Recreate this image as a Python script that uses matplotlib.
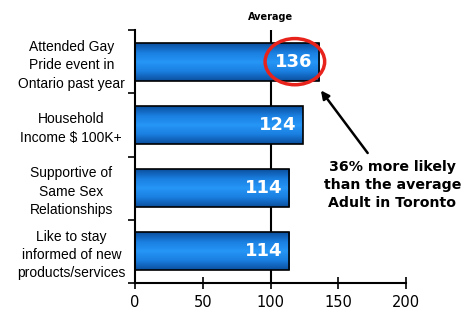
import numpy as np
import matplotlib.pyplot as plt
from matplotlib.colors import LinearSegmentedColormap
from matplotlib.patches import Ellipse

categories = ['Attended Gay\nPride event in\nOntario past year',
              'Household\nIncome $ 100K+',
              'Supportive of\nSame Sex\nRelationships',
              'Like to stay\ninformed of new\nproducts/services']
values = [136, 124, 114, 114]
xticks = [0, 50, 100, 150, 200]
average = 100
note = '36% more likely\nthan the average\nAdult in Toronto'

fig = plt.figure(figsize=(4.66, 3.13), dpi=100)
ax = fig.add_axes([0.29, 0.096, 0.581, 0.808])

grad = LinearSegmentedColormap.from_list('bar', ['#0b4f9e', '#1a7fe0', '#2596f7', '#1a7fe0', '#0b4f9e'])
g = np.linspace(0, 1, 64).reshape(-1, 1)
h = 0.6
for i, v in enumerate(values):
    ax.imshow(g, cmap=grad, aspect='auto', extent=[0, v, i + h / 2, i - h / 2], zorder=2)
    ax.barh(i, v, height=h, facecolor='none', edgecolor='black', linewidth=1.2, zorder=3)
    ax.text(v - 5, i, str(v), color='white', fontweight='bold', fontsize=13,
            ha='right', va='center', zorder=5)

ax.set_xlim(0, 200)
ax.set_ylim(3.5, -0.5)
ax.axvline(average, color='black', linewidth=1.5, zorder=1)
ax.text(average, -0.7, 'Average', ha='center', va='center', fontsize=7, fontweight='bold')

ax.set_yticks(np.arange(len(categories)))
ax.set_yticklabels(categories, family='Liberation Sans', fontsize=10, ha='center', linespacing=1.4)
ax.tick_params(axis='y', pad=46, length=0)
ax.set_yticks(np.arange(-0.5, 4, 1), minor=True)
ax.tick_params(axis='y', which='minor', length=5, width=1.2, direction='out')
ax.set_xticks(xticks)
ax.tick_params(axis='x', direction='inout', length=9, width=1.2, labelsize=10.5, pad=4)
for s in ['top', 'right']:
    ax.spines[s].set_visible(False)
ax.spines['left'].set_linewidth(1.5)
ax.spines['bottom'].set_linewidth(1.5)

ax.add_patch(Ellipse((118, 0), 44, 0.73, fill=False, edgecolor='#e8231c', linewidth=2.5, zorder=6, clip_on=False))
ax.annotate('', xy=(136, 0.42), xytext=(173, 1.48),
            arrowprops=dict(arrowstyle='-|>', color='black', lw=1.8, mutation_scale=12),
            annotation_clip=False)
ax.text(190, 1.95, note, ha='center', va='center', fontsize=10.2, fontweight='bold',
        linespacing=1.35, clip_on=False)

fig.savefig('out.png', dpi=100)
